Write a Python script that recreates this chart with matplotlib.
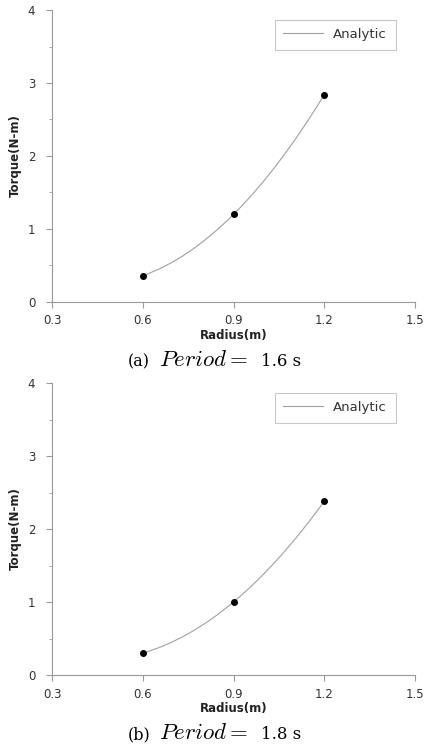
import matplotlib
matplotlib.use("Agg")
import matplotlib.pyplot as plt
from matplotlib.path import Path
from matplotlib.patches import PathPatch
from matplotlib.lines import Line2D
from matplotlib.ticker import MultipleLocator

plt.rcParams['mathtext.fontset'] = 'cm'

radius = [0.6, 0.9, 1.2]
torque_a = [0.36, 1.20, 2.84]
torque_b = [0.30, 1.00, 2.38]
cap_labels = ["(a)", "(b)"]
cap_periods = ["1.6 s", "1.8 s"]
x_ticks = [0.3, 0.6, 0.9, 1.2, 1.5]
y_ticks = [0, 1, 2, 3, 4]

W, H = 428, 747
fig = plt.figure(figsize=(W / 100, H / 100), dpi=100)

LINE_COLOR = '#a0a0a0'

def smooth_path(xs, ys):
    # Bezier curve through the data points (Hermite with three-point tangents)
    n = len(xs)
    d = [(ys[i + 1] - ys[i]) / (xs[i + 1] - xs[i]) for i in range(n - 1)]
    m = [0.0] * n
    for i in range(1, n - 1):
        m[i] = (d[i - 1] + d[i]) / 2
    m[0] = d[0] - (d[1] - d[0]) / 2 if n > 2 else d[0]
    m[-1] = d[-1] + (d[-1] - d[-2]) / 2 if n > 2 else d[-1]
    verts = [(xs[0], ys[0])]
    codes = [Path.MOVETO]
    for i in range(n - 1):
        h = xs[i + 1] - xs[i]
        c1 = (xs[i] + h / 3, ys[i] + m[i] * h / 3)
        c2 = (xs[i + 1] - h / 3, ys[i + 1] - m[i + 1] * h / 3)
        verts += [c1, c2, (xs[i + 1], ys[i + 1])]
        codes += [Path.CURVE4] * 3
    return Path(verts, codes)

panels = [(10, 302, torque_a, 0, 366),
          (383, 675, torque_b, 1, 739)]

for top_px, bot_px, torque, k, base_px in panels:
    ax = fig.add_axes([52 / W, 1 - bot_px / H, (415 - 52) / W, (bot_px - top_px) / H])
    ax.set_xlim(0.3, 1.5)
    ax.set_ylim(0, 4)
    patch = PathPatch(smooth_path(radius, torque), facecolor='none',
                      edgecolor=LINE_COLOR, lw=0.8)
    ax.add_patch(patch)
    ax.plot(radius, torque, 'o', color='black', ms=4, zorder=3)
    for s in ['top', 'right']:
        ax.spines[s].set_visible(False)
    for s in ['left', 'bottom']:
        ax.spines[s].set_color('#9a9a9a')
        ax.spines[s].set_linewidth(0.8)
    ax.set_xticks(x_ticks)
    ax.set_xticklabels([f"{v:.1f}" for v in x_ticks])
    ax.set_yticks(y_ticks)
    ax.yaxis.set_minor_locator(MultipleLocator(0.5))
    ax.tick_params(axis='both', which='major', direction='out', length=4,
                   width=0.8, color='#9a9a9a', labelsize=8.5, labelcolor='#333333')
    ax.tick_params(axis='y', which='minor', direction='out', length=2,
                   width=0.6, color='#9a9a9a')
    ax.tick_params(axis='x', pad=5)
    ax.tick_params(axis='y', pad=8)
    ax.set_xlabel('Radius(m)', fontsize=8.5, fontweight='bold', color='#222222', labelpad=1)
    ax.set_ylabel('Torque(N-m)', fontsize=8.5, fontweight='bold', color='#222222', labelpad=4)
    handle = Line2D([], [], color=LINE_COLOR, lw=0.8)
    leg = ax.legend(handles=[handle], labels=['Analytic'], loc='upper right',
                    bbox_to_anchor=(0.965, 0.99), fontsize=9.5, frameon=True,
                    fancybox=False, handlelength=3.0, borderpad=0.65, handletextpad=0.8,
                    borderaxespad=0.5)
    leg.get_frame().set_edgecolor('#bbbbbb')
    leg.get_frame().set_linewidth(0.8)
    for t in leg.get_texts():
        t.set_color('#333333')
    yb = 1 - base_px / H
    fig.text(128 / W, yb, cap_labels[k], ha='left', va='baseline',
             fontsize=11.5, family='DejaVu Serif')
    fig.text(159 / W, yb, r"$Period =$", ha='left', va='baseline', fontsize=16.5)
    fig.text(261 / W, yb, cap_periods[k], ha='left', va='baseline',
             fontsize=12, family='DejaVu Serif')

fig.savefig('out.png', dpi=100)
